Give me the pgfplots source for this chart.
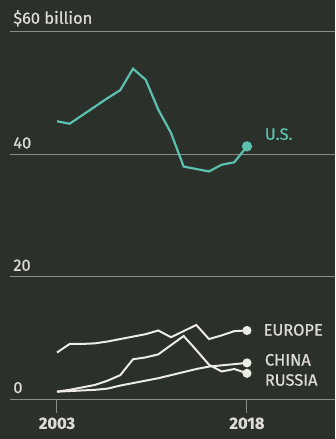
\documentclass[border=0pt]{standalone}
\usepackage{pgfplots}
\pgfplotsset{compat=1.18}
\usepackage{fontspec}
\setmainfont{Fira Sans}[FakeBold=0.6]
\newfontfamily\medfont{Fira Sans}[FakeBold=0.6]
\definecolor{bg}{HTML}{2C302A}
\definecolor{gridc}{HTML}{8A8D83}
\definecolor{txt}{HTML}{DCDCD4}
\definecolor{teal}{HTML}{5CC0AF}
\definecolor{wline}{HTML}{ECECE4}
\begin{document}
\begin{tikzpicture}[x=1bp,y=1bp]
\fill[bg] (0,0) rectangle (335,439);
\begin{axis}[
  at={(10bp,40bp)}, anchor=south west,
  scale only axis, width=325bp, height=367bp,
  xmin=1999.29, xmax=2024.95, ymin=0, ymax=60,
  clip=false,
  axis line style={draw=none},
  ytick={0,20,40,60}, yticklabels={},
  ymajorgrids, grid style={gridc, line width=1pt},
  ytick style={draw=none},
  xtick={2003,2018}, xticklabels={\textbf{2003},\textbf{2018}},
  xtick pos=bottom,
  xtick align=outside, major tick length=14bp,
  xtick style={gridc, line width=1pt},
  xticklabel style={txt, font=\fontsize{16.5}{18}\selectfont, yshift=-1bp},
  /pgf/number format/assume math mode=true,
]
\addplot[teal, line width=2.2pt, mark=*, mark size=4pt, mark indices={16}] coordinates {
(2003,45.4)(2004,45.0)(2005,46.4)(2006,47.8)(2007,49.2)(2008,50.5)(2009,54.0)(2010,52.2)
(2011,47.3)(2012,43.5)(2013,38.0)(2014,37.6)(2015,37.2)(2016,38.3)(2017,38.7)(2018,41.3)};
\addplot[wline, line width=2pt, mark=*, mark size=3.5pt, mark indices={16}] coordinates {
(2003,7.6)(2004,9.0)(2005,9.0)(2006,9.1)(2007,9.4)(2008,9.8)(2009,10.2)(2010,10.6)
(2011,11.2)(2012,10.1)(2013,11.1)(2014,12.1)(2015,9.8)(2016,10.4)(2017,11.1)(2018,11.2)};
\addplot[wline, line width=2pt, mark=*, mark size=3.5pt, mark indices={16}] coordinates {
(2003,1.2)(2004,1.3)(2005,1.4)(2006,1.5)(2007,1.7)(2008,2.2)(2009,2.6)(2010,3.0)
(2011,3.4)(2012,3.9)(2013,4.4)(2014,4.9)(2015,5.3)(2016,5.5)(2017,5.7)(2018,5.9)};
\addplot[wline, line width=2pt, mark=*, mark size=3.5pt, mark indices={16}] coordinates {
(2003,1.2)(2004,1.5)(2005,1.9)(2006,2.3)(2007,3.0)(2008,3.9)(2009,6.5)(2010,6.8)
(2011,7.3)(2012,8.8)(2013,10.3)(2014,8.0)(2015,5.6)(2016,4.5)(2017,4.9)(2018,4.2)};
\begin{scope}[every node/.style={txt, font=\medfont\fontsize{16.5}{18}\selectfont, inner sep=0pt}]
\node[anchor=south west] at (axis cs:1999.54,0.9) {0};
\node[anchor=south west] at (axis cs:1999.54,20.9) {20};
\node[anchor=south west] at (axis cs:1999.54,40.9) {40};
\node[anchor=south west] at (axis cs:1999.54,60.9) {\$60 billion};
\node[anchor=west, teal] at (axis cs:2019.4,43.3) {U.S.};
\node[anchor=west] at (axis cs:2019.3,11.3) {EUROPE};
\node[anchor=west] at (axis cs:2019.4,6.4) {CHINA};
\node[anchor=west] at (axis cs:2019.4,3.1) {RUSSIA};
\end{scope}
\end{axis}
\end{tikzpicture}
\end{document}
